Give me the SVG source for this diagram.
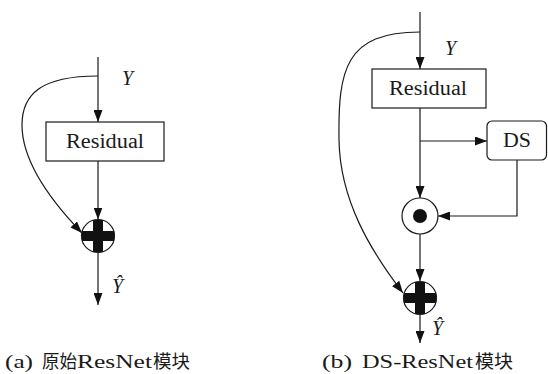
<svg xmlns="http://www.w3.org/2000/svg" width="548" height="374" viewBox="0 0 548 374">
<style>
  .ln{fill:none;stroke:#1a1a1a;stroke-width:1.2}
  .box{fill:#fff;stroke:#1a1a1a;stroke-width:1.2}
  .fillk{fill:#111}
  text{font-family:"Liberation Serif","DejaVu Serif",serif}
  .cjk{font-family:"Noto Sans CJK SC","Noto Sans CJK JP",sans-serif}
</style>
<defs>
  <marker id="arr" viewBox="0 0 12 9" refX="12" refY="4.5" markerWidth="12" markerHeight="9" markerUnits="userSpaceOnUse" orient="auto">
    <path d="M0,0 L12,4.5 L0,9 z" fill="#111"/>
  </marker>
</defs>

<g id="connectors">
  <line class="ln" x1="98" y1="57" x2="98" y2="122" marker-end="url(#arr)"/>
  <line class="ln" x1="98" y1="161" x2="98" y2="219.5" marker-end="url(#arr)"/>
  <line class="ln" x1="98" y1="252.5" x2="98" y2="305" marker-end="url(#arr)"/>
  <path class="ln" d="M98,76 C40,76 22,95 22,125 C22,165 55,205 82,233" marker-end="url(#arr)"/>
  <line class="ln" x1="420" y1="12" x2="420" y2="69" marker-end="url(#arr)"/>
  <line class="ln" x1="420" y1="108" x2="420" y2="198" marker-end="url(#arr)"/>
  <line class="ln" x1="420" y1="141" x2="487" y2="141" marker-end="url(#arr)"/>
  <polyline class="ln" points="517,160 517,216 438,216" marker-end="url(#arr)"/>
  <line class="ln" x1="420" y1="234" x2="420" y2="281" marker-end="url(#arr)"/>
  <line class="ln" x1="420" y1="315" x2="420" y2="343" marker-end="url(#arr)"/>
  <path class="ln" d="M420,32 C345,32 338,70 339,140 C340,200 370,250 403,293" marker-end="url(#arr)"/>
</g>

<g font-size="20" fill="#1a1a1a">
<g id="a-residual">
  <rect class="box" x="46" y="122" width="118" height="39"/>
  <text x="105" y="148" text-anchor="middle" textLength="78" lengthAdjust="spacingAndGlyphs">Residual</text>
</g>
<g id="a-add">
  <path class="fillk" d="M93,220 H103 V231 H114.2 V241 H103 V252 H93 V241 H81.8 V231 H93 z"/>
  <circle cx="98" cy="236" r="16.5" fill="none" stroke="#1a1a1a" stroke-width="1.2"/>
</g>
<g id="a-labels" font-style="italic">
  <text x="122" y="85">Y</text>
  <text x="112" y="293">Ŷ</text>
</g>

<g id="b-residual">
  <rect class="box" x="372" y="69" width="114" height="39"/>
  <text x="428" y="95" text-anchor="middle" textLength="78" lengthAdjust="spacingAndGlyphs">Residual</text>
</g>
<g id="b-ds">
  <rect class="box" x="487" y="121" width="59.5" height="39" rx="5"/>
  <text x="517" y="147" text-anchor="middle" textLength="28" lengthAdjust="spacingAndGlyphs">DS</text>
</g>
<g id="b-mul">
  <circle cx="420" cy="216" r="18" fill="#fff" stroke="#1a1a1a" stroke-width="1.2"/>
  <circle cx="420" cy="216" r="7" class="fillk"/>
</g>
<g id="b-add">
  <path class="fillk" d="M415,282 H425 V293 H436.2 V303 H425 V314 H415 V303 H403.8 V293 H415 z"/>
  <circle cx="420" cy="298" r="16.5" fill="none" stroke="#1a1a1a" stroke-width="1.2"/>
</g>
<g id="b-labels" font-style="italic">
  <text x="445" y="55">Y</text>
  <text x="432" y="335">Ŷ</text>
</g>

<g id="captions" font-size="19">
  <text y="368"><tspan x="5" textLength="28" lengthAdjust="spacingAndGlyphs">(a)</tspan><tspan class="cjk" font-size="18" x="42" textLength="35" lengthAdjust="spacingAndGlyphs">原始</tspan><tspan x="77" textLength="75" lengthAdjust="spacingAndGlyphs">ResNet</tspan><tspan class="cjk" font-size="18" x="153" textLength="37" lengthAdjust="spacingAndGlyphs">模块</tspan></text>
  <text y="368"><tspan x="322" textLength="30" lengthAdjust="spacingAndGlyphs">(b)</tspan><tspan x="362" textLength="111" lengthAdjust="spacingAndGlyphs">DS-ResNet</tspan><tspan class="cjk" font-size="18" x="475" textLength="38" lengthAdjust="spacingAndGlyphs">模块</tspan></text>
</g>
</g>
</svg>
